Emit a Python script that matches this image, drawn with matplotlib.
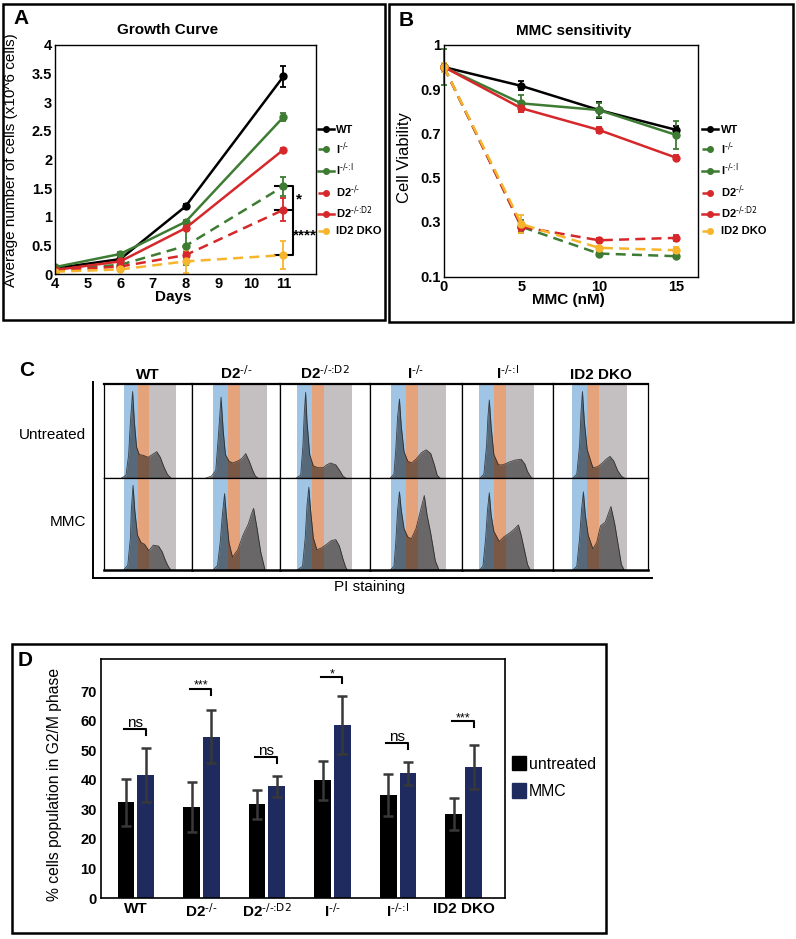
import matplotlib
matplotlib.use('Agg')
import matplotlib.pyplot as plt
from matplotlib.patches import Rectangle, Patch
from matplotlib.lines import Line2D

plt.rcParams['font.family'] = ['Liberation Sans', 'DejaVu Sans']
plt.rcParams['mathtext.default'] = 'regular'

# ---------------- data ----------------
strains_legend = ['WT', r'I$^{\text{-/-}}$', r'I$^{\text{-/-:I}}$', r'D2$^{\text{-/-}}$',
                  r'D2$^{\text{-/-:D2}}$', 'ID2 DKO']

# Panel A: growth curve (x10^6 cells)
days = [4, 6, 8, 11]
growth_wt = [0.10, 0.26, 1.18, 3.45]
growth_i = [0.08, 0.16, 0.49, 1.53]
growth_ii = [0.12, 0.35, 0.91, 2.74]
growth_d2 = [0.06, 0.13, 0.33, 1.12]
growth_d2d2 = [0.07, 0.22, 0.80, 2.17]
growth_dko = [0.04, 0.08, 0.22, 0.33]
gerr_wt = [0.02, 0.02, 0.04, 0.18]
gerr_i = [0.02, 0.03, 0.33, 0.17]
gerr_ii = [0.02, 0.03, 0.03, 0.07]
gerr_d2 = [0.02, 0.02, 0.05, 0.20]
gerr_d2d2 = [0.01, 0.02, 0.03, 0.03]
gerr_dko = [0.01, 0.02, 0.20, 0.25]
growth_yticks = [0, 0.5, 1, 1.5, 2, 2.5, 3, 3.5, 4]
growth_yticklabels = ['0', '0.5', '1', '1.5', '2', '2.5', '3', '3.5', '4']
growth_xticks = [4, 5, 6, 7, 8, 9, 10, 11]

# Panel B: MMC sensitivity
mmc = [0, 5, 10, 15]
via_wt = [1.0, 0.915, 0.806, 0.716]
via_i = [1.0, 0.278, 0.157, 0.145]
via_ii = [1.0, 0.836, 0.806, 0.693]
via_d2 = [1.0, 0.278, 0.217, 0.228]
via_d2d2 = [1.0, 0.814, 0.716, 0.590]
via_dko = [1.0, 0.290, 0.183, 0.172]
verr_wt = [0.01, 0.02, 0.035, 0.02]
verr_i = [0.01, 0.03, 0.01, 0.01]
verr_ii = [0.08, 0.038, 0.03, 0.065]
verr_d2 = [0.01, 0.02, 0.01, 0.015]
verr_d2d2 = [0.01, 0.015, 0.012, 0.012]
verr_dko = [0.02, 0.04, 0.01, 0.015]
via_yticks = [0.051, 0.3, 0.5, 0.7, 0.9, 1.1]
via_yticklabels = ['0.1', '0.3', '0.5', '0.7', '0.9', '1']
via_xticks = [0, 5, 10, 15]

# Panel C: cell-cycle histograms (x as fraction of cell width, y as fraction of row height)
c_headers = ['WT', r'D2$^{\text{-/-}}$', r'D2$^{\text{-/-:D2}}$', r'I$^{\text{-/-}}$',
             r'I$^{\text{-/-:I}}$', 'ID2 DKO']
c_rows = ['Untreated', 'MMC']
bands_wt = [0.225, 0.39, 0.51, 0.82]
bands_d2 = [0.24, 0.41, 0.54, 0.85]
bands_d2d2 = [0.19, 0.36, 0.49, 0.80]
bands_i = [0.23, 0.39, 0.52, 0.83]
bands_ii = [0.19, 0.35, 0.48, 0.79]
bands_dko = [0.20, 0.36, 0.48, 0.78]

hx_wt_u = [0.20, 0.25, 0.28, 0.30, 0.325, 0.345, 0.37, 0.40, 0.45, 0.50, 0.55, 0.60, 0.64, 0.68, 0.72, 0.76]
hy_wt_u = [0, 0.03, 0.25, 0.60, 0.92, 0.60, 0.33, 0.25, 0.24, 0.22, 0.25, 0.28, 0.22, 0.12, 0.04, 0]
hx_wt_m = [0.22, 0.27, 0.30, 0.31, 0.33, 0.35, 0.38, 0.42, 0.46, 0.51, 0.56, 0.62, 0.66, 0.70, 0.73, 0.76]
hy_wt_m = [0, 0.05, 0.35, 0.65, 0.92, 0.65, 0.38, 0.30, 0.28, 0.21, 0.27, 0.26, 0.20, 0.10, 0.04, 0]
hx_d2_u = [0.16, 0.22, 0.27, 0.30, 0.33, 0.355, 0.38, 0.42, 0.46, 0.52, 0.57, 0.61, 0.65, 0.69, 0.72, 0.75]
hy_d2_u = [0, 0.02, 0.08, 0.45, 0.86, 0.50, 0.25, 0.18, 0.16, 0.18, 0.21, 0.26, 0.18, 0.08, 0.02, 0]
hx_d2_m = [0.24, 0.29, 0.32, 0.345, 0.37, 0.39, 0.42, 0.46, 0.52, 0.58, 0.64, 0.68, 0.70, 0.74, 0.78, 0.83]
hy_d2_m = [0, 0.05, 0.30, 0.60, 0.83, 0.60, 0.30, 0.14, 0.22, 0.38, 0.50, 0.62, 0.67, 0.45, 0.20, 0]
hx_d2d2_u = [0.18, 0.23, 0.255, 0.27, 0.285, 0.30, 0.33, 0.37, 0.42, 0.48, 0.52, 0.56, 0.62, 0.67, 0.70, 0.73]
hy_d2d2_u = [0, 0.03, 0.35, 0.70, 0.91, 0.60, 0.25, 0.13, 0.11, 0.11, 0.14, 0.16, 0.14, 0.07, 0.02, 0]
hx_d2d2_m = [0.19, 0.25, 0.28, 0.30, 0.32, 0.34, 0.37, 0.41, 0.46, 0.52, 0.57, 0.62, 0.66, 0.70, 0.73, 0.75]
hy_d2d2_m = [0, 0.04, 0.35, 0.70, 0.90, 0.65, 0.35, 0.22, 0.24, 0.28, 0.32, 0.33, 0.26, 0.12, 0.03, 0]
hx_i_u = [0.22, 0.26, 0.28, 0.30, 0.32, 0.34, 0.37, 0.41, 0.45, 0.50, 0.56, 0.61, 0.66, 0.70, 0.73, 0.76]
hy_i_u = [0, 0.04, 0.30, 0.65, 0.84, 0.55, 0.28, 0.18, 0.16, 0.20, 0.27, 0.30, 0.26, 0.14, 0.03, 0]
hx_i_m = [0.22, 0.26, 0.28, 0.30, 0.32, 0.34, 0.37, 0.41, 0.45, 0.50, 0.55, 0.59, 0.62, 0.66, 0.71, 0.75]
hy_i_m = [0, 0.04, 0.30, 0.65, 0.85, 0.65, 0.45, 0.36, 0.34, 0.45, 0.65, 0.81, 0.60, 0.40, 0.10, 0]
hx_ii_u = [0.20, 0.24, 0.27, 0.285, 0.30, 0.32, 0.35, 0.40, 0.45, 0.52, 0.58, 0.65, 0.69, 0.72, 0.75, 0.77]
hy_ii_u = [0, 0.04, 0.35, 0.65, 0.83, 0.55, 0.25, 0.14, 0.14, 0.17, 0.19, 0.20, 0.15, 0.07, 0.02, 0]
hx_ii_m = [0.19, 0.23, 0.26, 0.28, 0.30, 0.32, 0.35, 0.41, 0.46, 0.52, 0.57, 0.62, 0.65, 0.69, 0.72, 0.75]
hy_ii_m = [0, 0.04, 0.35, 0.65, 0.84, 0.60, 0.42, 0.31, 0.36, 0.40, 0.44, 0.49, 0.38, 0.20, 0.06, 0]
hx_dko_u = [0.21, 0.25, 0.28, 0.295, 0.31, 0.33, 0.36, 0.42, 0.47, 0.52, 0.56, 0.60, 0.64, 0.68, 0.72, 0.75]
hy_dko_u = [0, 0.04, 0.35, 0.70, 0.92, 0.60, 0.30, 0.11, 0.12, 0.16, 0.20, 0.23, 0.18, 0.08, 0.02, 0]
hx_dko_m = [0.21, 0.25, 0.28, 0.30, 0.32, 0.34, 0.37, 0.42, 0.46, 0.50, 0.55, 0.61, 0.65, 0.69, 0.72, 0.75]
hy_dko_m = [0, 0.04, 0.35, 0.65, 0.85, 0.60, 0.38, 0.23, 0.30, 0.48, 0.52, 0.69, 0.50, 0.25, 0.06, 0]

# Panel D: % cells in G2/M
d_groups = ['WT', r'D2$^{\text{-/-}}$', r'D2$^{\text{-/-:D2}}$', r'I$^{\text{-/-}}$',
            r'I$^{\text{-/-:I}}$', 'ID2 DKO']
g2m_untreated = [32.4, 30.9, 31.7, 39.9, 34.9, 28.4]
g2m_untreated_err = [8.0, 8.5, 5.0, 6.7, 7.0, 5.4]
g2m_mmc = [41.7, 54.6, 37.9, 58.7, 42.2, 44.5]
g2m_mmc_err = [9.2, 9.0, 3.6, 9.9, 4.0, 7.4]
sig_labels = ['ns', '***', 'ns', '*', 'ns', '***']
sig_heights = [57.2, 70.9, 47.7, 74.9, 52.4, 60.0]
d_yticks = [0, 10, 20, 30, 40, 50, 60, 70]

# ---------------- layout helpers ----------------
W, H = 796, 939
fig = plt.figure(figsize=(W / 100, H / 100), dpi=100)


def rect(l, t, r, b):
    return [l / W, 1 - b / H, (r - l) / W, (b - t) / H]


def frame(l, t, r, b, lw=1.8):
    fig.patches.append(Rectangle((l / W, 1 - b / H), (r - l) / W, (b - t) / H,
                                 transform=fig.transFigure, fill=False,
                                 ec='black', lw=lw, zorder=10))


def T(x, y, s, **kw):
    fig.text(x / W, 1 - y / H, s, **kw)


def hline(x0, x1, y, lw=1.5, color='black'):
    fig.add_artist(Line2D([x0 / W, x1 / W], [1 - y / H, 1 - y / H], lw=lw, color=color,
                          transform=fig.transFigure))


def vline(x, y0, y1, lw=1.5, color='black'):
    fig.add_artist(Line2D([x / W, x / W], [1 - y0 / H, 1 - y1 / H], lw=lw, color=color,
                          transform=fig.transFigure))


BLACK = '#000000'
GREEN = '#3e7b33'
RED = '#d6282b'
YELLOW = '#f7b52c'

series_style = [
    (BLACK, '-'), (GREEN, (0, (4, 2.5))), (GREEN, '-'),
    (RED, (0, (4, 2.5))), (RED, '-'), (YELLOW, (0, (4, 2.5))),
]

# ---------------- Panel A ----------------
frame(3, 4, 385, 320)
axA = fig.add_axes(rect(55, 45, 316, 274))
g_vals = [growth_wt, growth_i, growth_ii, growth_d2, growth_d2d2, growth_dko]
g_errs = [gerr_wt, gerr_i, gerr_ii, gerr_d2, gerr_d2d2, gerr_dko]
handles = []
for vals, errs, (c, ls), lab in zip(g_vals, g_errs, series_style, strains_legend):
    axA.errorbar(days, vals, yerr=errs, color=c, ls=ls, lw=1.8, marker='o', ms=5,
                 capsize=2.5, elinewidth=1.3, capthick=1.3)
    handles.append(Line2D([], [], color=c, ls=ls, lw=1.8, marker='o', ms=4))
axA.set_xlim(4, 12)
axA.set_ylim(0, 4)
axA.set_xticks(growth_xticks)
axA.set_yticks(growth_yticks)
axA.set_yticklabels(growth_yticklabels)
axA.tick_params(length=0, labelsize=10.5, pad=2)
for lab in axA.get_xticklabels() + axA.get_yticklabels():
    lab.set_fontweight('bold')
for sp in axA.spines.values():
    sp.set_linewidth(1.0)
# significance brackets
axA.plot([10.75, 11.28, 11.28, 10.75], [1.53, 1.53, 1.12, 1.12], color='black', lw=1.5, clip_on=False)
axA.plot([11.28, 11.28, 10.75], [1.12, 0.33, 0.33], color='black', lw=1.5, clip_on=False)
axA.text(11.38, 1.30, '*', fontsize=11, fontweight='bold', ha='left', va='center')
axA.text(11.28, 0.68, '****', fontsize=11, fontweight='bold', ha='left', va='center')
axA.legend(handles, strains_legend, loc='upper left', bbox_to_anchor=(318 / W, 1 - 125 / H),
           bbox_transform=fig.transFigure, frameon=False, prop={'weight': 'bold', 'size': 8},
           handlelength=1.4, handletextpad=0.2, borderpad=0, borderaxespad=0, labelspacing=0.45)
T(21.5, 19, 'A', fontsize=15, fontweight='bold', ha='center', va='center')
T(168, 30, 'Growth Curve', fontsize=11, fontweight='bold', ha='center', va='center')
T(173, 297, 'Days', fontsize=11, fontweight='bold', ha='center', va='center')
T(11.5, 160, 'Average number of cells (x10^6 cells)', fontsize=11, rotation=90, ha='center', va='center')

# ---------------- Panel B ----------------
frame(389, 4, 793, 322)
axB = fig.add_axes(rect(444, 45, 698, 277))
v_vals = [via_wt, via_i, via_ii, via_d2, via_d2d2, via_dko]
v_errs = [verr_wt, verr_i, verr_ii, verr_d2, verr_d2d2, verr_dko]
handlesB = []
for vals, errs, (c, ls), lab in zip(v_vals, v_errs, series_style, strains_legend):
    axB.errorbar(mmc, vals, yerr=errs, color=c, ls=ls, lw=1.8, marker='o', ms=5,
                 capsize=2.5, elinewidth=1.3, capthick=1.3, clip_on=False)
    handlesB.append(Line2D([], [], color=c, ls=ls, lw=1.8, marker='o', ms=4))
axB.set_xlim(0, 16.4)
axB.set_ylim(via_yticks[0], via_yticks[-1])
axB.set_xticks(via_xticks)
axB.set_yticks(via_yticks)
axB.set_yticklabels(via_yticklabels)
axB.tick_params(length=0, labelsize=10.5, pad=2)
for lab in axB.get_xticklabels() + axB.get_yticklabels():
    lab.set_fontweight('bold')
for sp in axB.spines.values():
    sp.set_linewidth(1.0)
axB.legend(handlesB, strains_legend, loc='upper left', bbox_to_anchor=(702 / W, 1 - 125 / H),
           bbox_transform=fig.transFigure, frameon=False, prop={'weight': 'bold', 'size': 8},
           handlelength=1.4, handletextpad=0.3, borderpad=0, borderaxespad=0, labelspacing=0.45)
T(406.5, 20, 'B', fontsize=15, fontweight='bold', ha='center', va='center')
T(574, 31, 'MMC sensitivity', fontsize=11, fontweight='bold', ha='center', va='center')
T(568, 300, 'MMC (nM)', fontsize=11, fontweight='bold', ha='center', va='center')
T(404, 158, 'Cell Viability', fontsize=12, rotation=90, ha='center', va='center')

# ---------------- Panel C ----------------
col_edges = [104, 192, 280, 370, 462, 553, 648]
row_edges = [384, 478, 570]
bands_all = [bands_wt, bands_d2, bands_d2d2, bands_i, bands_ii, bands_dko]
hists = [
    [(hx_wt_u, hy_wt_u), (hx_wt_m, hy_wt_m)],
    [(hx_d2_u, hy_d2_u), (hx_d2_m, hy_d2_m)],
    [(hx_d2d2_u, hy_d2d2_u), (hx_d2d2_m, hy_d2d2_m)],
    [(hx_i_u, hy_i_u), (hx_i_m, hy_i_m)],
    [(hx_ii_u, hy_ii_u), (hx_ii_m, hy_ii_m)],
    [(hx_dko_u, hy_dko_u), (hx_dko_m, hy_dko_m)],
]
BAND_BLUE = '#9fc4e4'
BAND_ORANGE = '#e5a37c'
BAND_GRAY = '#c4c0c1'
for ci in range(6):
    b = bands_all[ci]
    for ri in range(2):
        ax = fig.add_axes(rect(col_edges[ci], row_edges[ri], col_edges[ci + 1], row_edges[ri + 1]))
        ax.set_xlim(0, 1)
        ax.set_ylim(0, 1)
        ax.axvspan(b[0], b[1], color=BAND_BLUE, lw=0)
        ax.axvspan(b[1], b[2], color=BAND_ORANGE, lw=0)
        ax.axvspan(b[2], b[3], color=BAND_GRAY, lw=0)
        hx, hy = hists[ci][ri]
        ax.fill_between(hx, hy, 0, color='#161616', alpha=0.52, lw=0)
        ax.plot(hx, hy, color='#1d1d1d', lw=0.6, alpha=0.8)
        ax.set_xticks([])
        ax.set_yticks([])
        for sp in ax.spines.values():
            sp.set_linewidth(0.9)
        if ri == 1:
            ax.spines['bottom'].set_linewidth(1.8)
        if ri == 0:
            ax.spines['top'].set_linewidth(1.6)
    T((col_edges[ci] + col_edges[ci + 1]) / 2, 379, c_headers[ci], fontsize=11, fontweight='bold',
      ha='center', va='baseline')
vline(93, 382, 578, lw=1.4)
hline(93, 652, 578, lw=1.4)
T(27, 371, 'C', fontsize=15, fontweight='bold', ha='center', va='center')
T(86, 435, c_rows[0], fontsize=11, ha='right', va='center')
T(86, 522, c_rows[1], fontsize=11, ha='right', va='center')
T(370, 587, 'PI staining', fontsize=11, ha='center', va='center')

# ---------------- Panel D ----------------
frame(12, 644, 606, 933)
axD = fig.add_axes(rect(101, 659, 505, 898))
xs = list(range(len(d_groups)))
bw = 0.255
NAVY = '#1f2a5e'
axD.bar([x - 0.15 for x in xs], g2m_untreated, width=bw, color=BLACK, lw=0, zorder=2)
axD.bar([x + 0.15 for x in xs], g2m_mmc, width=bw, color=NAVY, lw=0, zorder=2)
axD.errorbar([x - 0.15 for x in xs], g2m_untreated, yerr=g2m_untreated_err, fmt='none',
             ecolor='#383838', elinewidth=1.8, capsize=3.5, capthick=1.8, zorder=3)
axD.errorbar([x + 0.15 for x in xs], g2m_mmc, yerr=g2m_mmc_err, fmt='none',
             ecolor='#383838', elinewidth=1.8, capsize=3.5, capthick=1.8, zorder=3)
for x, lab, hgt in zip(xs, sig_labels, sig_heights):
    axD.plot([x - 0.18, x + 0.15, x + 0.15], [hgt, hgt, hgt - 2.0], color='black', lw=1.5)
    if lab == 'ns':
        axD.text(x - 0.01, hgt + 2.1, lab, fontsize=11, ha='center', va='center')
    else:
        axD.text(x - 0.01, hgt + 1.0, lab, fontsize=9, ha='center', va='center')
axD.set_xlim(-0.53, 5.63)
axD.set_ylim(0, 81)
axD.set_yticks(d_yticks)
axD.set_xticks(xs)
axD.set_xticklabels(d_groups)
axD.tick_params(length=0, pad=3)
axD.tick_params(axis='y', labelsize=10.5)
axD.tick_params(axis='x', labelsize=11)
for lab in axD.get_xticklabels() + axD.get_yticklabels():
    lab.set_fontweight('bold')
for sp in axD.spines.values():
    sp.set_linewidth(1.2)
axD.legend([Patch(color=BLACK), Patch(color=NAVY)], ['untreated', 'MMC'], loc='upper left',
           bbox_to_anchor=(512 / W, 1 - 756 / H), bbox_transform=fig.transFigure, frameon=False,
           fontsize=11.4, handlelength=0.9, handleheight=1.0, handletextpad=0.15, borderpad=0,
           borderaxespad=0, labelspacing=0.75)
T(25, 660, 'D', fontsize=15, fontweight='bold', ha='center', va='center')
T(55, 784, '% cells population in G2/M phase', fontsize=11.3, rotation=90, ha='center', va='center')

fig.savefig('out.png', dpi=100)
